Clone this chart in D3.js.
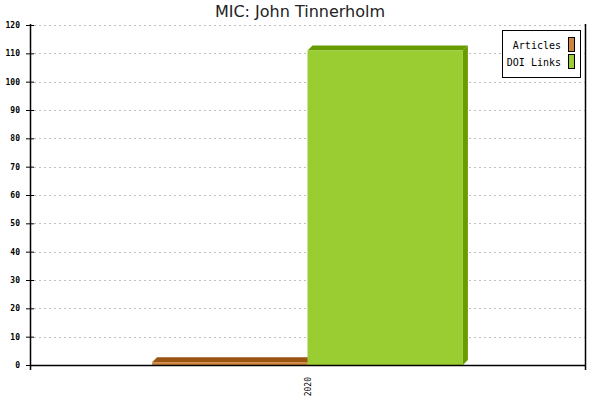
<!DOCTYPE html>
<html>
<head>
<meta charset="utf-8">
<script src="https://cdn.jsdelivr.net/npm/d3@7"></script>
<style>
  body { margin: 0; background: #fff; }
</style>
</head>
<body>
<div id="app"></div>
<script>
'use strict'

const title = 'MIC: John Tinnerholm'
const years = ['2020']
const seriesNames = ['Articles', 'DOI Links']
const articles = [1]
const doiLinks = [111]
const yTicks = [0, 10, 20, 30, 40, 50, 60, 70, 80, 90, 100, 110, 120]

const fronts = ['#cd853f', '#9acd32']
const tops = ['#9a5514', '#699c00']

const margin = { top: 25, right: 15, bottom: 35, left: 30 }
const W = 600, H = 400
const width = W - margin.left - margin.right
const height = H - margin.top - margin.bottom
const depth = 5

const svg = d3.select('#app').append('svg')
  .attr('width', W).attr('height', H)

svg.append('text')
  .attr('x', 300).attr('y', 17)
  .attr('text-anchor', 'middle')
  .style('font-family', 'DejaVu Sans')
  .style('font-size', '16px')
  .style('fill', '#222')
  .text(title)

const g = svg.append('g')
  .attr('transform', `translate(${margin.left}, ${margin.top})`)

const x = d3.scaleBand().domain(years).range([0, width]).paddingInner(0).paddingOuter(0)
const inner = d3.scaleBand().domain(seriesNames).range([x.bandwidth() * 0.22, x.bandwidth() * 0.78])
const y = d3.scaleLinear().domain([0, 120]).range([height, 0])

// grid
g.selectAll('.grid').data(yTicks.filter(d => d > 0))
  .enter().append('line')
  .attr('x1', 4).attr('x2', width)
  .attr('y1', d => Math.round(y(d)) + 0.5).attr('y2', d => Math.round(y(d)) + 0.5)
  .attr('stroke', '#c0c0c0')
  .attr('stroke-dasharray', '2,3')

// y axis
const yAxis = g.append('g')
  .call(d3.axisLeft(y).tickValues(yTicks).tickSize(4).tickPadding(6))
yAxis.select('.domain').remove()
yAxis.selectAll('.tick line').attr('x1', -4).attr('x2', 4).attr('stroke', '#000')
yAxis.selectAll('text')
  .style('font-family', 'DejaVu Sans Mono')
  .style('font-size', '8px')
  .style('font-weight', 'bold')
  .attr('x', -10)
g.append('line').attr('x1', 0.5).attr('x2', 0.5).attr('y1', -1).attr('y2', height + 5)
  .attr('stroke', '#000').attr('stroke-width', 1.5)

// bars
const series = [articles, doiLinks]
series.forEach((vals, si) => {
  years.forEach((yr, i) => {
    const x0 = x(yr) + inner(seriesNames[si])
    const w = inner.bandwidth()
    const y0 = y(vals[i])
    const b = y(0)
    const bar = g.append('g')
    // side
    bar.append('path')
      .attr('d', `M${x0 + w},${y0} L${x0 + w + depth},${y0 - depth} L${x0 + w + depth},${b - depth} L${x0 + w},${b} Z`)
      .attr('fill', tops[si])
    // top
    bar.append('path')
      .attr('d', `M${x0},${y0} L${x0 + depth},${y0 - depth} L${x0 + w + depth},${y0 - depth} L${x0 + w},${y0} Z`)
      .attr('fill', tops[si])
    bar.append('rect')
      .attr('x', x0).attr('y', y0)
      .attr('width', w).attr('height', b - y0)
      .attr('fill', fronts[si])
  })
})

// x axis
g.append('line').attr('x1', 0).attr('x2', width).attr('y1', height + 0.5).attr('y2', height + 0.5)
  .attr('stroke', '#000').attr('stroke-width', 1.5)
g.append('line').attr('x1', width + 0.5).attr('x2', width + 0.5).attr('y1', -1).attr('y2', height + 5)
  .attr('stroke', '#000').attr('stroke-width', 1.5)
g.selectAll('.xl').data(years).enter().append('text')
  .attr('transform', d => `translate(${x(d) + x.bandwidth() / 2 + 3}, ${height + 12}) rotate(-90)`)
  .attr('text-anchor', 'end')
  .style('font-family', 'DejaVu Sans Mono')
  .style('font-size', '8px')
  .text(d => d)

// legend
const lg = svg.append('g')
lg.append('rect').attr('x', 502.5).attr('y', 30.5).attr('width', 78).attr('height', 47)
  .attr('fill', '#fff').attr('stroke', '#000')
seriesNames.forEach((n, i) => {
  lg.append('rect').attr('x', 568.5).attr('y', 37.5 + i * 17).attr('width', 6).attr('height', 14)
    .attr('fill', fronts[i]).attr('stroke', '#000')
  lg.append('text').attr('x', 561).attr('y', 49 + i * 17)
    .attr('text-anchor', 'end')
    .style('font-family', 'DejaVu Sans Mono')
    .style('font-size', '10px')
    .text(n)
})
</script>
</body>
</html>
